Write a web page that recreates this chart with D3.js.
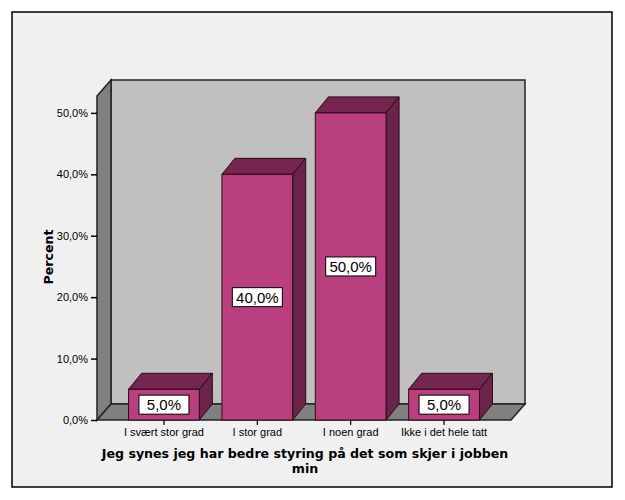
<!DOCTYPE html>
<html>
<head>
<meta charset="utf-8">
<script src="https://cdn.jsdelivr.net/npm/d3@7"></script>
<style>
  body { margin: 0; background: #fff; }
  svg { display: block; }
</style>
</head>
<body>
<svg id="chart" width="625" height="500"></svg>
<script>
// data
const categories = ['I svært stor grad', 'I stor grad', 'I noen grad', 'Ikke i det hele tatt'];
const values = [5.0, 40.0, 50.0, 5.0];
const yTicks = [0, 10, 20, 30, 40, 50];
const xTitleLines = ['Jeg synes jeg har bedre styring på det som skjer i jobben', 'min'];
const yTitle = 'Percent';

// layout
const frame = { left: 12, top: 12, right: 612, bottom: 487 };
const plot = { left: 97, right: 511, top: 96, bottom: 420 };
const wallDepth = { dx: 14, dy: -16 };
const barDepth = { dx: 13, dy: -16 };

const colors = {
    bg: '#f0f0f0',
    backWall: '#c0c0c0',
    sideWall: '#808080',
    barFront: '#ba3f7e',
    barTop: '#75264f',
    barSide: '#6c2349',
    barStroke: '#2a0a1a'
};

const fmtPct = d => d3.format('.1f')(d).replace('.', ',') + '%';
const pts = arr => arr.map(p => p.join(',')).join(' ');

const svg = d3.select('#chart');

svg.append('rect')
    .attr('x', frame.left)
    .attr('y', frame.top)
    .attr('width', frame.right - frame.left)
    .attr('height', frame.bottom - frame.top)
    .attr('fill', colors.bg)
    .attr('stroke', '#000')
    .attr('stroke-width', 1.5);

const x = d3.scaleBand()
    .domain(categories)
    .range([plot.left, plot.right])
    .paddingInner(0.242)
    .paddingOuter(0.338);

const y = d3.scaleLinear()
    .domain([0, 52.75])
    .range([plot.bottom, plot.top]);

// walls
const gWalls = svg.append('g');
const L = plot.left, R = plot.right, T = plot.top, B = plot.bottom;
const dx = wallDepth.dx, dy = wallDepth.dy;

gWalls.append('polygon') // back wall
    .attr('points', pts([[L + dx, T + dy], [R + dx, T + dy], [R + dx, B + dy], [L + dx, B + dy]]))
    .attr('fill', colors.backWall)
    .attr('stroke', '#222')
    .attr('stroke-width', 1.5);

gWalls.append('polygon') // side wall
    .attr('points', pts([[L, T], [L + dx, T + dy], [L + dx, B + dy], [L, B]]))
    .attr('fill', colors.sideWall)
    .attr('stroke', '#222')
    .attr('stroke-width', 1.5);

gWalls.append('polygon') // floor
    .attr('points', pts([[L, B], [L + dx, B + dy], [R + dx, B + dy], [R, B]]))
    .attr('fill', colors.sideWall)
    .attr('stroke', '#222')
    .attr('stroke-width', 1.5);

// bars
const gBars = svg.append('g');
const bars = gBars.selectAll('.bar')
    .data(categories.map((c, i) => ({ cat: c, value: values[i] })))
    .enter()
    .append('g')
    .attr('class', 'bar');

const bw = x.bandwidth();
const bdx = barDepth.dx, bdy = barDepth.dy;

bars.append('polygon') // top
    .attr('points', d => {
        const x0 = x(d.cat), yt = y(d.value);
        return pts([[x0, yt], [x0 + bdx, yt + bdy], [x0 + bw + bdx, yt + bdy], [x0 + bw, yt]]);
    })
    .attr('fill', colors.barTop)
    .attr('stroke', colors.barStroke)
    .attr('stroke-width', 1);

bars.append('polygon') // side
    .attr('points', d => {
        const x1 = x(d.cat) + bw, yt = y(d.value), yb = y(0);
        return pts([[x1, yt], [x1 + bdx, yt + bdy], [x1 + bdx, yb + bdy], [x1, yb]]);
    })
    .attr('fill', colors.barSide)
    .attr('stroke', colors.barStroke)
    .attr('stroke-width', 1);

bars.append('rect') // front
    .attr('x', d => x(d.cat))
    .attr('y', d => y(d.value))
    .attr('width', bw)
    .attr('height', d => y(0) - y(d.value))
    .attr('fill', colors.barFront)
    .attr('stroke', colors.barStroke)
    .attr('stroke-width', 1);

// value labels
const labels = bars.append('g')
    .attr('transform', d => `translate(${x(d.cat) + bw / 2},${(y(d.value) + y(0)) / 2})`);

labels.append('rect')
    .attr('x', -25)
    .attr('y', -9.5)
    .attr('width', 50)
    .attr('height', 19)
    .attr('fill', '#fff')
    .attr('stroke', '#000')
    .attr('stroke-width', 1);

labels.append('text')
    .attr('text-anchor', 'middle')
    .attr('dy', '0.36em')
    .attr('font-family', 'Liberation Sans, Arial, sans-serif')
    .attr('font-size', 15)
    .attr('fill', '#000')
    .text(d => fmtPct(d.value));

// axes
const yAxis = d3.axisLeft(y).tickValues(yTicks).tickFormat(fmtPct).tickSizeInner(6).tickSizeOuter(0);
const gY = svg.append('g')
    .attr('transform', `translate(${plot.left},0)`)
    .call(yAxis);
gY.select('.domain').remove();
gY.selectAll('.tick line').attr('stroke', '#000').attr('stroke-width', 1.5);
gY.selectAll('.tick text')
    .attr('font-family', 'Liberation Sans, Arial, sans-serif')
    .attr('font-size', 11)
    .attr('fill', '#000');

const xAxis = d3.axisBottom(x).tickSizeInner(5).tickSizeOuter(0);
const gX = svg.append('g')
    .attr('transform', `translate(0,${plot.bottom})`)
    .call(xAxis);
gX.select('.domain').remove();
gX.selectAll('.tick line').attr('stroke', '#000').attr('stroke-width', 1.2);
gX.selectAll('.tick text')
    .attr('font-family', 'Liberation Sans, Arial, sans-serif')
    .attr('font-size', 11)
    .attr('fill', '#000')
    .attr('y', 8);

// titles
svg.append('text')
    .attr('transform', 'translate(52.5,257) rotate(-90)')
    .attr('text-anchor', 'middle')
    .attr('font-family', 'DejaVu Sans, sans-serif')
    .attr('font-weight', 'bold')
    .attr('font-size', 12.6)
    .attr('fill', '#000')
    .text(yTitle);

const xTitle = svg.append('text')
    .attr('text-anchor', 'middle')
    .attr('font-family', 'DejaVu Sans, sans-serif')
    .attr('font-weight', 'bold')
    .attr('font-size', 12.6)
    .attr('fill', '#000');
xTitleLines.forEach((line, i) => {
    xTitle.append('tspan')
        .attr('x', 305)
        .attr('y', 458 + i * 15)
        .text(line);
});
</script>
</body>
</html>
